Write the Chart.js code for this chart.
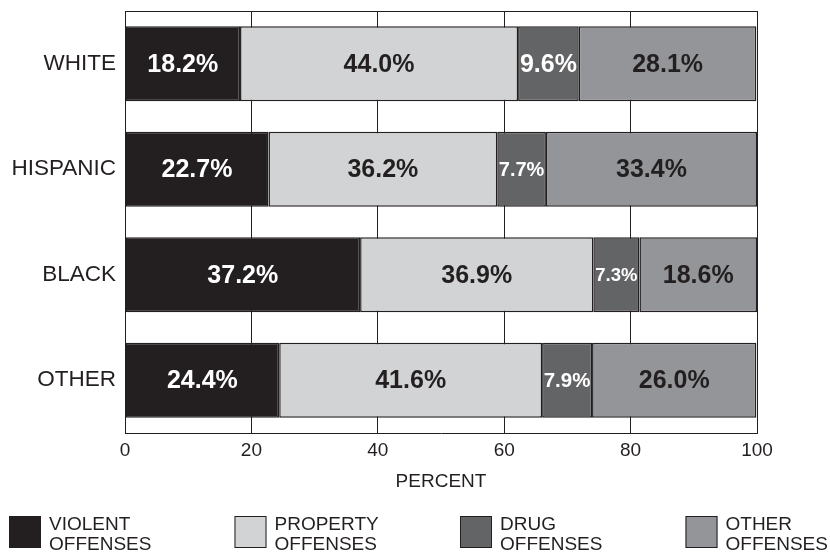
<!DOCTYPE html>
<html>
<head>
<meta charset="utf-8">
<script src="https://cdn.jsdelivr.net/npm/chart.js@4/dist/chart.umd.min.js"></script>
<style>
  body { margin: 0; background: #fff; }
  #wrap { width: 830px; height: 553px; }
</style>
</head>
<body>
<div id="wrap"><canvas id="chart" width="830" height="553"></canvas></div>
<script>
/* Data */
const groups = ["WHITE", "HISPANIC", "BLACK", "OTHER"];
const seriesNames = [["VIOLENT", "OFFENSES"], ["PROPERTY", "OFFENSES"], ["DRUG", "OFFENSES"], ["OTHER", "OFFENSES"]];
const violent = [18.2, 22.7, 37.2, 24.4];
const property = [44.0, 36.2, 36.9, 41.6];
const drug = [9.6, 7.7, 7.3, 7.9];
const other = [28.1, 33.4, 18.6, 26.0];
const xTicks = [0, 20, 40, 60, 80, 100];

const ink = "#231f20";
const fills = ["#231f20", "#d1d3d4", "#636466", "#939598"];
const labelColors = ["#ffffff", ink, "#ffffff", ink];
const FONT = "'Liberation Sans', Arial, Helvetica, sans-serif";

Chart.defaults.font.family = FONT;
Chart.defaults.color = ink;

/* Frame line along the top of the plot */
const frame = {
    id: "frame",
    beforeDatasetsDraw(chart) {
        const { ctx, chartArea: a } = chart;
        ctx.save();
        ctx.strokeStyle = ink;
        ctx.lineWidth = 1;
        ctx.beginPath();
        ctx.moveTo(a.left, a.top + 0.5);
        ctx.lineTo(a.right, a.top + 0.5);
        ctx.stroke();
        ctx.restore();
    }
};

/* Percent labels centred in each segment */
const segLabels = {
    id: "segLabels",
    afterDatasetsDraw(chart) {
        const ctx = chart.ctx;
        ctx.save();
        ctx.textAlign = "center";
        ctx.textBaseline = "middle";
        chart.data.datasets.forEach((ds, i) => {
            const meta = chart.getDatasetMeta(i);
            meta.data.forEach((el, j) => {
                const { x, base, y } = el.getProps(["x", "base", "y"], true);
                const text = ds.data[j].toFixed(1) + "%";
                const room = Math.abs(x - base) - 3;
                let size = 25;
                ctx.font = `bold ${size}px ${FONT}`;
                while (ctx.measureText(text).width > room && size > 10) {
                    size -= 0.5;
                    ctx.font = `bold ${size}px ${FONT}`;
                }
                ctx.fillStyle = labelColors[i];
                ctx.fillText(text, (x + base) / 2, y + 1);
            });
        });
        ctx.restore();
    }
};

/* Legend with two-line labels along the bottom */
const bottomLegend = {
    id: "bottomLegend",
    afterDraw(chart) {
        const ctx = chart.ctx;
        ctx.save();
        ctx.font = `19px ${FONT}`;
        ctx.textBaseline = "middle";
        ctx.textAlign = "left";
        chart.data.datasets.forEach((ds, i) => {
            const sx = 9 + i * 225.5;
            ctx.fillStyle = ds.backgroundColor;
            ctx.fillRect(sx, 516, 32, 32);
            ctx.strokeStyle = ink;
            ctx.lineWidth = 1;
            ctx.strokeRect(sx + 0.5, 516.5, 31, 31);
            ctx.fillStyle = ink;
            seriesNames[i].forEach((line, k) => ctx.fillText(line, sx + 40, 525 + k * 20));
        });
        ctx.restore();
    }
};

const seriesData = [violent, property, drug, other];

new Chart(document.getElementById("chart"), {
    type: "bar",
    data: {
        labels: groups,
        datasets: seriesData.map((vals, i) => ({
            label: seriesNames[i].join(" "),
            data: vals,
            backgroundColor: fills[i],
            borderColor: ink,
            borderWidth: 1.5,
            borderSkipped: false,
            barPercentage: 0.71,
            categoryPercentage: 1
        }))
    },
    options: {
        indexAxis: "y",
        responsive: false,
        animation: false,
        layout: { padding: { top: 11, right: 73, left: 0, bottom: 0 } },
        plugins: {
            legend: { display: false },
            tooltip: { enabled: false }
        },
        scales: {
            x: {
                stacked: true,
                min: 0,
                max: 100,
                afterBuildTicks: (scale) => { scale.ticks = xTicks.map(v => ({ value: v })); },
                ticks: { font: { size: 19 }, color: ink, padding: 6, maxRotation: 0 },
                grid: { color: ink, lineWidth: 1, drawTicks: false },
                border: { display: true, color: ink, width: 1 },
                title: {
                    display: true,
                    text: "PERCENT",
                    font: { size: 19 },
                    color: ink,
                    padding: { top: 0, bottom: 60 }
                },
                afterFit: (scale) => { scale.height = 120; }
            },
            y: {
                stacked: true,
                ticks: { font: { size: 22.5 }, color: ink, padding: 9 },
                grid: { display: false, drawTicks: false },
                border: { display: true, color: ink, width: 1 },
                afterFit: (scale) => {
                    scale.width = 125;
                    scale.paddingTop = 0;
                    scale.paddingBottom = 0;
                }
            }
        }
    },
    plugins: [frame, segLabels, bottomLegend]
});
</script>
</body>
</html>
